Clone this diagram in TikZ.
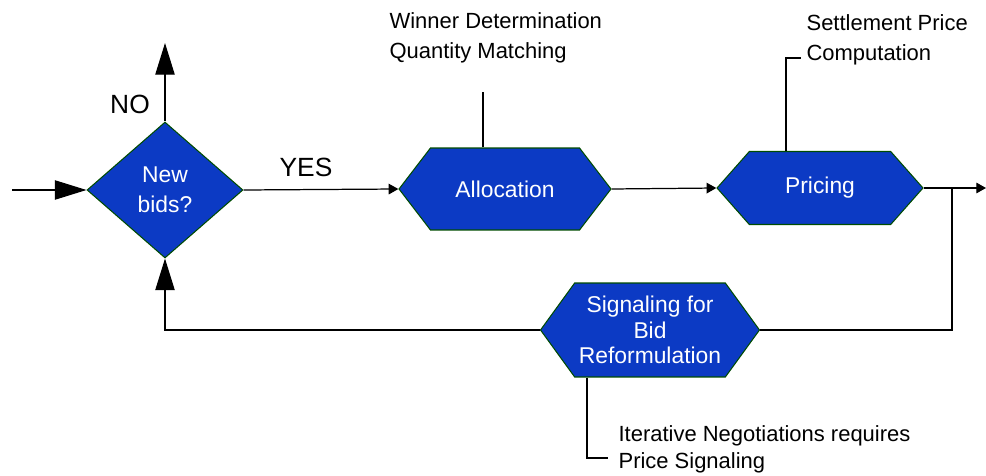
\documentclass[tikz,border=0pt]{standalone}
\usepackage{fontspec}
\setmainfont{Liberation Sans}
\usetikzlibrary{shapes.geometric,shapes.symbols,arrows.meta}
\definecolor{bidblue}{RGB}{12,58,196}

\begin{document}
\begin{tikzpicture}[x=0.02cm,y=-0.02cm,line width=0.7pt,
  stage/.style={shape=signal,signal to=east and west,draw=black!70!green,line width=0.6pt,
    fill=bidblue,text=white,align=center,inner sep=0pt,font=\fontsize{13}{14.5}\selectfont},
  test/.style={shape=diamond,draw=black!70!green,line width=0.6pt,fill=bidblue,text=white,
    align=center,inner sep=0pt,minimum width=3.12cm,minimum height=2.72cm,
    font=\fontsize{13}{17}\selectfont},
  note/.style={anchor=north west,inner sep=0pt,align=left,font=\fontsize{12.5}{17}\selectfont},
  answer/.style={inner sep=0pt,font=\fontsize{15}{17}\selectfont},
  big/.style={-{Triangle[length=18pt,width=11pt]}},
  small/.style={-{Triangle[length=5.5pt,width=6pt]}}]
\path[use as bounding box] (0,0) rectangle (986,476);
% boxes
\node[test] (nb) at (165,190) {New\\bids?};
\node[stage,minimum width=4.24cm,minimum height=1.64cm,signal pointer angle=105] (al) at (505,189) {Allocation};
\node[stage,minimum width=4.12cm,minimum height=1.46cm,signal pointer angle=97] (pr) at (820,188) {Pricing};
\node[stage,minimum width=4.38cm,minimum height=1.88cm,signal pointer angle=108] (sg) at (650,330) {Signaling for\\Bid\\Reformulation};
% labels and notes
\node[answer] (no) at (130,104) {NO};
\node[answer] (yes) at (306,167) {YES};
\node[note] (wd) at (389,12) {Winner Determination\\Quantity Matching};
\node[note] (sp) at (806,14) {Settlement Price\\Computation};
\node[note,font=\fontsize{12.5}{15.5}\selectfont] (it) at (618,425) {Iterative Negotiations requires\\Price Signaling};
% free ends
\coordinate (in) at (12,190);
\coordinate (stop) at (165,43);
\coordinate (out) at (986,188);
\coordinate (jn) at (952,188);
\coordinate (wdf) at (483,92);
\coordinate (spc) at (786,58);
\coordinate (itc) at (587,458);
% flow
\draw[big] (in) -- (nb.west);
\draw[big] (nb.north) -- (stop);
\draw[small] (nb.east) -- (al.west);
\draw[small] (al.east) -- (pr.west);
\draw[small] (pr.east) -- (out);
\draw (jn) |- (sg.east);
\draw[big] (sg.west) -| (nb.south);
% note lines
\draw (wdf |- al.north) -- (wdf);
\draw (spc |- pr.north) -- (spc) -- ++(15,0);
\draw (itc |- sg.south) -- (itc) -- ++(21,0);
\end{tikzpicture}
\end{document}
